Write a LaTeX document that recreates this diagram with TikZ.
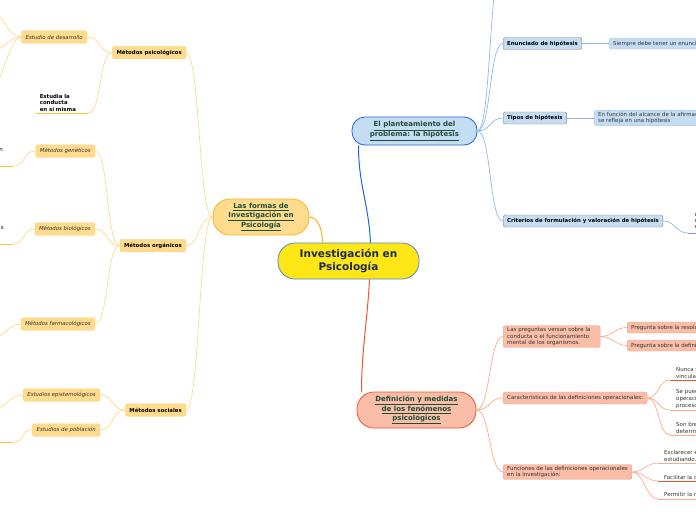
\documentclass[tikz,border=0pt]{standalone}
\usepackage{fontspec}
\setmainfont{DejaVu Sans}
\usetikzlibrary{positioning}

\definecolor{raizfondo}{HTML}{FFE617}
\definecolor{raizborde}{HTML}{4A8FC9}
\definecolor{raiztexto}{HTML}{1B2A57}
\definecolor{temtexto}{HTML}{1E4D3A}
\definecolor{gristexto}{HTML}{333333}
\definecolor{naranjafuerte}{HTML}{F9B21E}
\definecolor{naranjatema}{HTML}{FFDB8E}
\definecolor{naranjaborde}{HTML}{FCCF74}
\definecolor{naranjalinea}{HTML}{FFDA8A}
\definecolor{naranjahoja}{HTML}{FFC233}
\definecolor{azulfuerte}{HTML}{1C66D6}
\definecolor{azulfondo}{HTML}{C5DDF2}
\definecolor{azulborde}{HTML}{A8CCEE}
\definecolor{azullinea}{HTML}{8DB9EE}
\definecolor{rojofuerte}{HTML}{F0552A}
\definecolor{salmonfondo}{HTML}{F9BDA8}
\definecolor{salmonborde}{HTML}{F7A386}
\definecolor{salmonlinea}{HTML}{FBAA8E}

\begin{document}
\begin{tikzpicture}[x=1pt,y=-1pt,
 raiz/.style={draw=raizborde,fill=raizfondo,line width=0.8pt,rounded corners=17pt,
  minimum width=141pt,minimum height=36pt,align=center,text=raiztexto,
  font=\fontsize{10.5}{13}\selectfont\bfseries},
 tema/.style={line width=0.8pt,rounded corners=13pt,align=center,text=temtexto,
  font=\fontsize{7}{8.6}\selectfont\bfseries},
 subO/.style={draw=naranjaborde,fill=naranjatema,rounded corners=2pt,minimum height=12.5pt,
  inner xsep=4pt,inner ysep=1pt,text=gristexto,font=\fontsize{5.4}{6.6}\selectfont\itshape},
 subOb/.style={subO,text=black,font=\fontsize{5.4}{6.6}\selectfont\bfseries},
 subB/.style={draw=gray,fill=azulfondo,rounded corners=1.5pt,minimum height=12pt,
  inner xsep=4pt,inner ysep=1pt,text=black,font=\fontsize{5.4}{6.6}\selectfont\bfseries},
 hojaB/.style={draw=azulborde,fill=azulfondo,rounded corners=2pt,minimum height=11pt,
  inner xsep=4pt,inner ysep=1.5pt,align=left,text=gristexto,font=\fontsize{5.5}{6.6}\selectfont},
 subS/.style={draw=salmonborde,fill=salmonfondo,rounded corners=2pt,minimum height=12pt,
  inner xsep=4pt,inner ysep=1.5pt,align=left,text=gristexto,font=\fontsize{5.5}{6.6}\selectfont},
 hoja/.style={inner xsep=6pt,inner ysep=1.5pt,align=left,text=gristexto,
  font=\fontsize{5.5}{6.6}\selectfont},
 ramaO/.style={naranjalinea,line width=0.7pt},
 ramaB/.style={azullinea,line width=0.7pt},
 ramaS/.style={salmonlinea,line width=0.7pt}]
\useasboundingbox (0,0) rectangle (696,520);
\clip (0,0) rectangle (696,520);

% centro y ramas principales
\node[raiz] (inv) at (348.5,261) {Investigación en\\Psicología};
\node[tema,draw=naranjafuerte,fill=naranjatema,minimum width=96pt,minimum height=36pt,
 rounded corners=17pt] (formas) at (261,217)
 {\underline{Las formas de}\\\underline{Investigación en}\\\underline{Psicología}};
\node[tema,draw=azulfuerte,fill=azulfondo,minimum width=125pt,minimum height=28pt]
 (hipo) at (414.5,131) {\underline{El planteamiento del}\\\underline{problema: la hipótesis}};
\node[tema,draw=rojofuerte,fill=salmonfondo,minimum width=119pt,minimum height=36pt,
 rounded corners=17pt] (defi) at (416.5,410)
 {\underline{Definición y medidas}\\\underline{de los fenómenos}\\\underline{psicológicos}};

\draw[naranjafuerte,line width=1pt] ([xshift=-26pt]inv.north)
 .. controls +(0,-14) and +(8,0) .. (formas.east);
\draw[azulfuerte,line width=1pt] ([xshift=22pt]inv.north)
 .. controls +(-2,-40) and +(0,40) .. ([xshift=-56pt]hipo.south);
\draw[rojofuerte,line width=1pt] ([xshift=21pt]inv.south)
 .. controls +(-2,40) and +(0,-40) .. ([xshift=-55pt]defi.north);

% formas de investigacion
\node[subOb,anchor=east] (psico) at (186,52.5) {Métodos psicológicos};
\node[subOb,anchor=east] (organ) at (186,245.5) {Métodos orgánicos};
\node[subOb,anchor=east] (social) at (186,410) {Métodos sociales};
\node[subO,anchor=east] (desarr) at (87,37) {Estudio de desarrollo};
\node[hoja,anchor=south east,text=black,font=\fontsize{5.4}{6.6}\selectfont\bfseries,
 inner xsep=4pt,text width=44pt] (conducta) at (88,113) {Estudia la\\conducta\\en sí misma};
\node[subO,anchor=east] (genet) at (95,151) {Métodos genéticos};
\node[subO,anchor=east] (biol) at (95,229) {Métodos biológicos};
\node[subO,anchor=east] (farma) at (95,324) {Métodos farmacológicos};
\node[subO,anchor=east] (epis) at (100,395) {Estudios epistemológicos};
\node[subO,anchor=east] (pobla) at (100,430) {Estudios de población};
\node[hoja,anchor=south east,align=right,text=black,inner xsep=10pt] (genhoja) at (13,166) {n\\~\\~};
\node[hoja,anchor=south east,align=right,text=black,inner xsep=9pt] (biohoja) at (13,244) {s\\~\\~};
\node[hoja,anchor=south east] (pobhoja) at (13,442) {~};
\coordinate (desA) at (-12,10);
\coordinate (desB) at (-8,50);
\coordinate (desC) at (-12,92);
\coordinate (farhoja) at (-8,338);
\coordinate (epihoja) at (-8,409);

\foreach \a/\b in {formas.west/psico.east,formas.west/organ.east,formas.west/social.east,
 psico.west/desarr.east,psico.west/conducta.south east,organ.west/genet.east,
 organ.west/biol.east,organ.west/farma.east,social.west/epis.east,social.west/pobla.east,
 desarr.west/desA,desarr.west/desB,desarr.west/desC,genet.west/genhoja.south east,
 biol.west/biohoja.south east,farma.west/farhoja,epis.west/epihoja,pobla.west/pobhoja.south east}
 \draw[ramaO] (\a) .. controls +(-14,0) and +(14,0) .. (\b);
\foreach \n in {conducta,genhoja,biohoja,pobhoja}
 \draw[naranjahoja,line width=1pt] (\n.south west) -- (\n.south east);

% planteamiento del problema
\coordinate (hiparriba) at (503,-40);
\node[subB,anchor=west] (enun) at (503,43.5) {Enunciado de hipótesis};
\node[subB,anchor=west] (tipos) at (503,118) {Tipos de hipótesis};
\node[subB,anchor=west] (crit) at (503,221) {Criterios de formulación y valoración de hipótesis};
\node[hojaB,anchor=west] (siempre) at (609,43.5) {Siempre debe tener un enunciado};
\node[hojaB,anchor=west] (alcance) at (594,118)
 {En función del alcance de la afirmación\\se refleja en una hipótesis};
\node[hoja,anchor=south west,minimum width=20pt] (crithoja) at (688,233) {};
\node[draw=gray,dashed,anchor=north west,minimum width=20pt,minimum height=18pt]
 (critnota) at (695.3,211) {};

\foreach \b in {hiparriba,enun.west,tipos.west,crit.west}
 \draw[ramaB] (hipo.east) .. controls +(14,0) and +(-14,0) .. (\b);
\draw[ramaB] (enun) -- (siempre);
\draw[ramaB] (tipos) -- (alcance);
\draw[ramaB] (crit.east) .. controls +(12,0) and +(-12,0) .. (crithoja.south west);
\draw[azullinea!80!blue,line width=1pt] (crithoja.south west) -- (crithoja.south east);

% definicion y medidas
\node[subS,anchor=west,text width=89pt] (preg) at (503,336.5)
 {Las preguntas versan sobre la\\conducta o el funcionamiento\\mental de los organismos.};
\node[subS,anchor=west] (carac) at (503,398) {Características de las definiciones operacionales:};
\node[subS,anchor=west] (func) at (503,472)
 {Funciones de las definiciones operacionales\\en la investigación:};
\node[subS,anchor=west,minimum height=11pt] (resol) at (627,327.5) {Pregunta sobre la resolución};
\node[subS,anchor=west,minimum height=11pt] (defin) at (627,345.5) {Pregunta sobre la definición};
\node[hoja,anchor=south west] (nunca) at (670,380) {Nunca son\\vinculantes};
\node[hoja,anchor=south west] (sepue) at (670,410) {Se pueden\\operacionalizar\\procesos};
\node[hoja,anchor=south west] (sonbre) at (670,435) {Son breves y\\determinadas};
\node[hoja,anchor=south west] (escl) at (658,463) {Esclarecer el fenómeno\\estudiando.};
\node[hoja,anchor=south west] (facil) at (658,481) {Facilitar la comunicación};
\node[hoja,anchor=south west] (permi) at (658,499) {Permitir la replicación};

\foreach \b in {preg,carac,func}
 \draw[ramaS] (defi.east) .. controls +(14,0) and +(-14,0) .. (\b.west);
\foreach \a/\b in {preg/resol,preg/defin}
 \draw[ramaS] (\a.east) .. controls +(12,0) and +(-12,0) .. (\b.west);
\foreach \a/\b in {carac/nunca,carac/sepue,carac/sonbre,func/escl,func/facil,func/permi}
 \draw[ramaS] (\a.east) .. controls +(12,0) and +(-12,0) .. (\b.south west);
\foreach \n in {sepue,sonbre,escl,permi}
 \draw[salmonlinea,line width=1pt] (\n.south west) -- (\n.south east);
\foreach \n in {nunca,facil}
 \draw[rojofuerte,line width=1pt] (\n.south west) -- (\n.south east);
\end{tikzpicture}
\end{document}
